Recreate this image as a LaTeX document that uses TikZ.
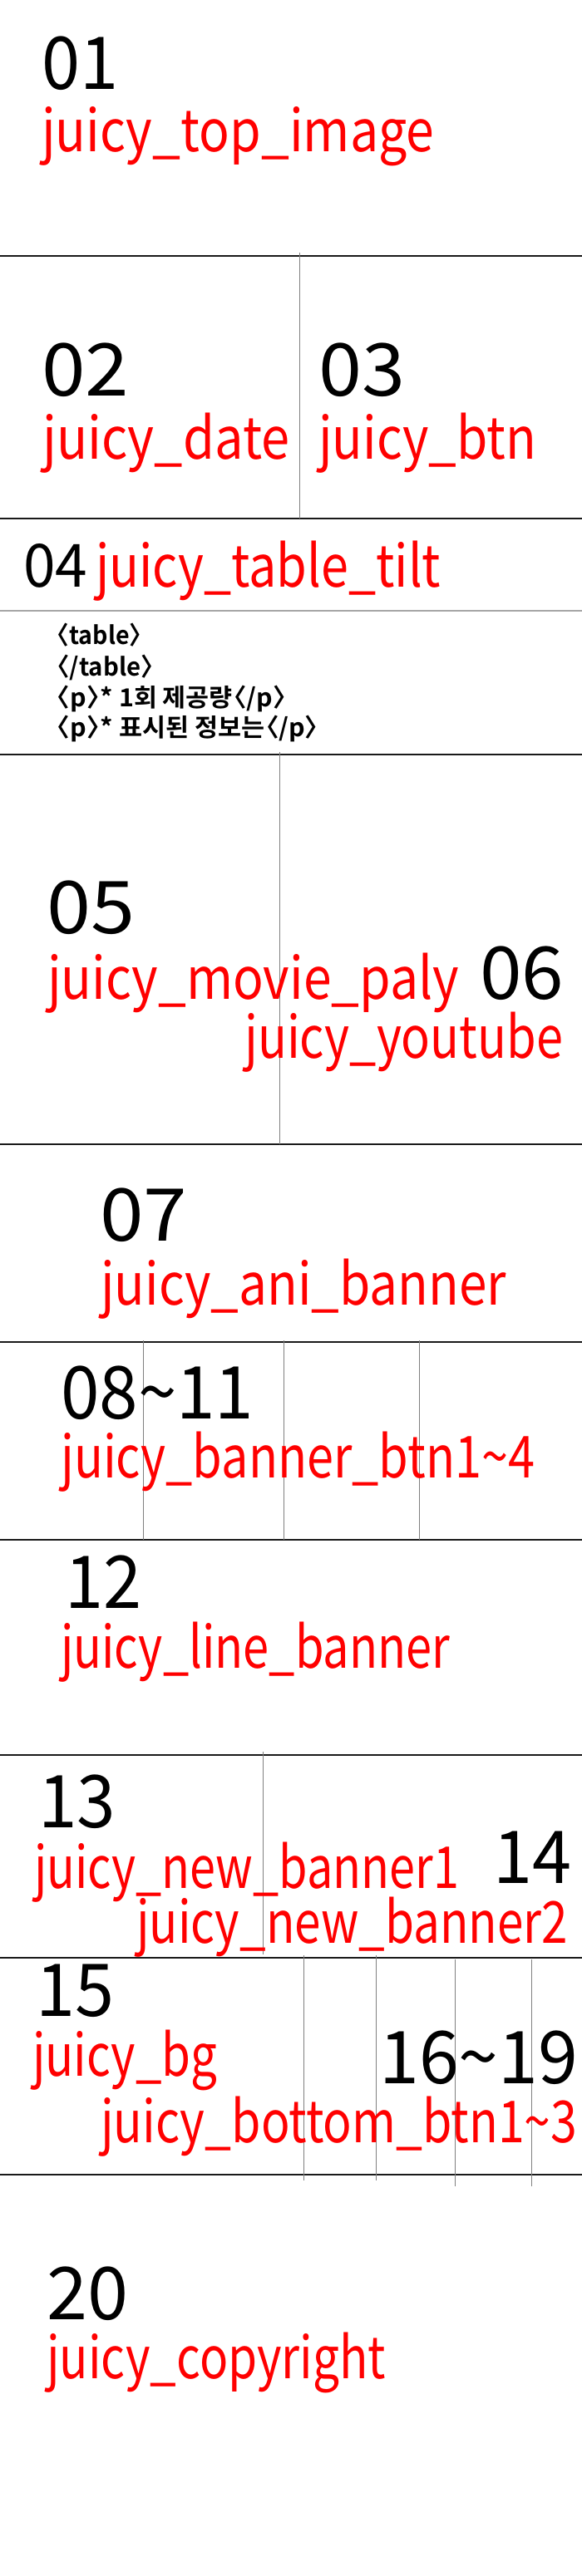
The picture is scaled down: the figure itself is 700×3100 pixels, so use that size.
\documentclass[tikz,border=0pt]{standalone}
\usepackage{fontspec}
\setmainfont{Noto Sans CJK KR}
\newfontfamily\codefont{Noto Sans CJK KR Bold}
\newcommand\fitw[2]{\resizebox{#1bp}{\height}{#2}}
\newcommand\tld{\textasciitilde}
\begin{document}
\begin{tikzpicture}[x=1bp,y=-1bp,
  num/.style={anchor=base west,inner sep=0pt,font=\fontsize{88}{88}\selectfont,text=black},
  numsm/.style={anchor=base west,inner sep=0pt,font=\fontsize{72}{72}\selectfont,text=black},
  lbl/.style={anchor=base west,inner sep=0pt,font=\fontsize{70}{70}\selectfont,text=red},
  code/.style={anchor=base west,inner sep=0pt,font=\codefont\fontsize{30}{30}\selectfont,text=black},
  hline/.style={line width=1.2bp,black!90},
  gline/.style={line width=1.5bp,black!35},
  vline/.style={line width=0.9bp,black!50}]
\useasboundingbox (0,0) rectangle (700,3100);
\fill[white] (0,0) rectangle (700,3100);
% horizontal lines
\foreach \yy in {308,624,908,1377,1615,1853,2112,2356,2617}
  \draw[hline] (0,\yy) -- (700,\yy);
\draw[gline] (0,735) -- (700,735);
% vertical lines
\draw[vline] (360,304) -- (360,624);
\draw[vline] (336,905) -- (336,1377);
\foreach \xx in {172,341,504} \draw[vline] (\xx,1613) -- (\xx,1853);
\draw[vline] (316,2108) -- (316,2352);
\draw[vline] (365,2353) -- (365,2624);
\draw[vline] (452,2353) -- (452,2624);
\draw[vline] (547,2358) -- (547,2631);
\draw[vline] (639,2358) -- (639,2631);
% section 01
\node[num] (n01) at (50,108) {\fitw{92}{01}};
\node[lbl] (l01) at (50,183) {\fitw{472}{juicy\_top\_image}};
% 02 03
\node[num] (n02) at (50,476) {\fitw{105}{02}};
\node[lbl] (l02) at (51,552) {\fitw{297}{juicy\_date}};
\node[num] (n03) at (383,476) {\fitw{104}{03}};
\node[lbl] (l03) at (383,552) {\fitw{262}{juicy\_btn}};
% 04
\node[numsm] (n04) at (28,706) {\fitw{77}{04}};
\node[lbl] (l04) at (115,706) {\fitw{415}{juicy\_table\_tilt}};
\node[code] (c1) at (69,775) {\fitw{101}{\kern-0.5em〈table〉\kern-0.5em}};
\node[code] (c2) at (69,813) {\fitw{115}{\kern-0.5em〈/table〉\kern-0.5em}};
\node[code] (c3) at (69,850) {\fitw{274}{\kern-0.5em〈p〉\kern-0.45em* 1회 제공량\kern-0.45em〈/p〉\kern-0.5em}};
\node[code] (c4) at (69,886) {\fitw{313}{\kern-0.5em〈p〉\kern-0.45em* 표시된 정보는\kern-0.45em〈/p〉\kern-0.5em}};
% 05 06
\node[num] (n05) at (56,1123) {\fitw{106}{05}};
\node[lbl] (l05) at (57,1202) {\fitw{495}{juicy\_movie\_paly}};
\node[num] (n06) at (577,1202) {\fitw{101}{06}};
\node[lbl] (l06) at (294,1273) {\fitw{383}{juicy\_youtube}};
% 07
\node[num] (n07) at (120,1493) {\fitw{105}{07}};
\node[lbl] (l07) at (121,1570) {\fitw{488}{juicy\_ani\_banner}};
% 08-11
\node[num] (n08) at (73,1707) {\fitw{232}{08\tld11}};
\node[lbl] (l08) at (73,1778) {\fitw{570}{juicy\_banner\_btn1\tld4}};
% 12
\node[num] (n12) at (78,1935) {\fitw{92}{12}};
\node[lbl] (l12) at (73,2007) {\fitw{468}{juicy\_line\_banner}};
% 13 14
\node[num] (n13) at (46,2199) {\fitw{93}{13}};
\node[lbl] (l13) at (41,2272) {\fitw{511}{juicy\_new\_banner1}};
\node[num] (n14) at (593,2266) {\fitw{94}{14}};
\node[lbl] (l14) at (164,2338) {\fitw{519}{juicy\_new\_banner2}};
% 15-19
\node[num] (n15) at (43,2426) {\fitw{94}{15}};
\node[lbl] (l15) at (39,2498) {\fitw{222}{juicy\_bg}};
\node[num] (n16) at (456,2507) {\fitw{239}{16\tld19}};
\node[lbl] (l16) at (121,2578) {\fitw{573}{juicy\_bottom\_btn1\tld3}};
% 20
\node[num] (n20) at (56,2791) {\fitw{98}{20}};
\node[lbl] (l20) at (56,2862) {\fitw{408}{juicy\_copyright}};
\end{tikzpicture}
\end{document}
